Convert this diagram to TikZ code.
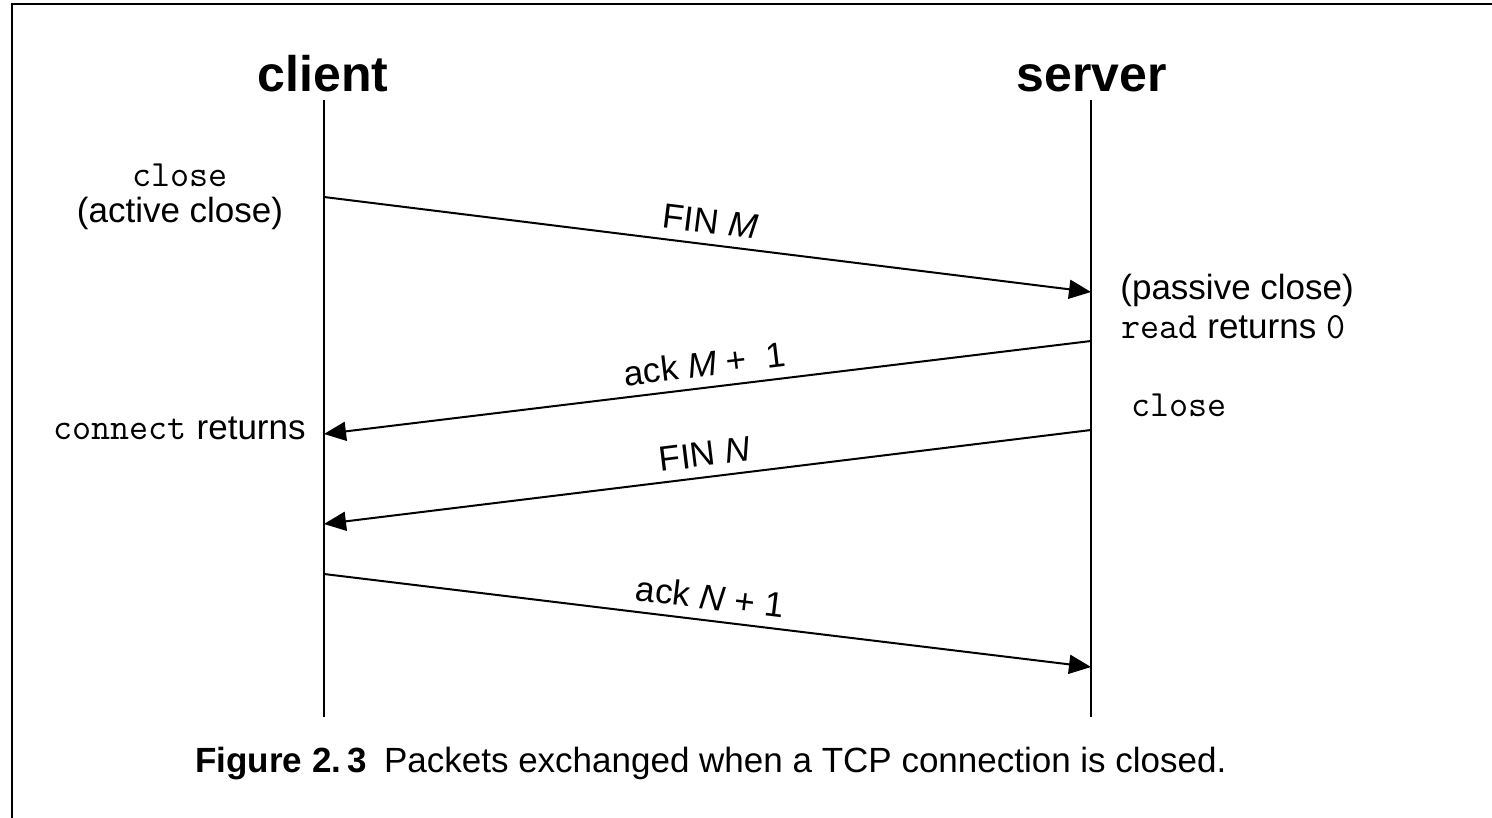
\documentclass[tikz,border=0pt]{standalone}
\usepackage{fontspec}
\setmainfont{Liberation Sans}
\usetikzlibrary{arrows.meta}

% typewriter words inside the sans labels
\newcommand\mcode[1]{{\ttfamily\fontsize{18.5}{22}\selectfont #1}}

\begin{document}
\begin{tikzpicture}[x=0.5pt,y=-0.5pt,
  head/.style={font=\fontsize{25}{30}\selectfont\bfseries, anchor=base, inner sep=0pt},
  note/.style={font=\fontsize{17.5}{21}\selectfont, inner sep=0pt},
  lifeline/.style={line width=1.3pt},
  msg/.style={line width=1pt, -{Triangle[length=11pt,width=9.5pt]}},
  msglabel/.style={font=\fontsize{17.5}{21}\selectfont, midway, above, sloped, inner sep=5pt},
]
\useasboundingbox (0,0) rectangle (1492,818);

% frame
\begin{scope}
  \clip (0,0) rectangle (1492,818);
  \draw[line width=1pt] (11.5,830) -- (11.5,4) -- (1500,4);
\end{scope}

% headings
\node[head] (client) at (323,92) {client};
\node[head] (server) at (1092,92) {server};

% lifelines
\coordinate (ctop) at (324,100);
\coordinate (cbot) at (324,717);
\coordinate (stop) at (1091,100);
\coordinate (sbot) at (1091,717);
\draw[lifeline] (ctop) -- (cbot);
\draw[lifeline] (stop) -- (sbot);

% events on the lifelines
\coordinate (c1) at (324,197);
\coordinate (s1) at (1091,292);
\coordinate (s2) at (1091,341);
\coordinate (c2) at (324,434);
\coordinate (s3) at (1091,430);
\coordinate (c3) at (324,524);
\coordinate (c4) at (324,574);
\coordinate (s4) at (1091,667);

% segments
\draw[msg] (c1) -- node[msglabel] {FIN \textit{M}} (s1);
\draw[msg] (s2) -- node[msglabel] {ack \textit{M} +\ \ 1} (c2);
\draw[msg] (s3) -- node[msglabel] {FIN \textit{N}} (c3);
\draw[msg] (c4) -- node[msglabel] {ack \textit{N} + 1} (s4);

% side notes
\node[note, anchor=base] (closeA) at (180,187) {\mcode{close}};
\node[note, anchor=base] (active) at (180,222) {(active close)};
\node[note, anchor=base west] (passive) at (1120,299) {(passive close)};
\node[note, anchor=base west] (readret) at (1121,338) {\mcode{read} returns \mcode{0}};
\node[note, anchor=base west] (closeB) at (1131,416) {\mcode{close}};
\node[note, anchor=base east] (connret) at (306,439) {\mcode{connect} returns};

% caption
\node[note, anchor=base west] (caption) at (195,772)
  {\textbf{Figure 2.\,3}\hspace{0.5em}Packets exchanged when a TCP connection is closed.};
\end{tikzpicture}
\end{document}
